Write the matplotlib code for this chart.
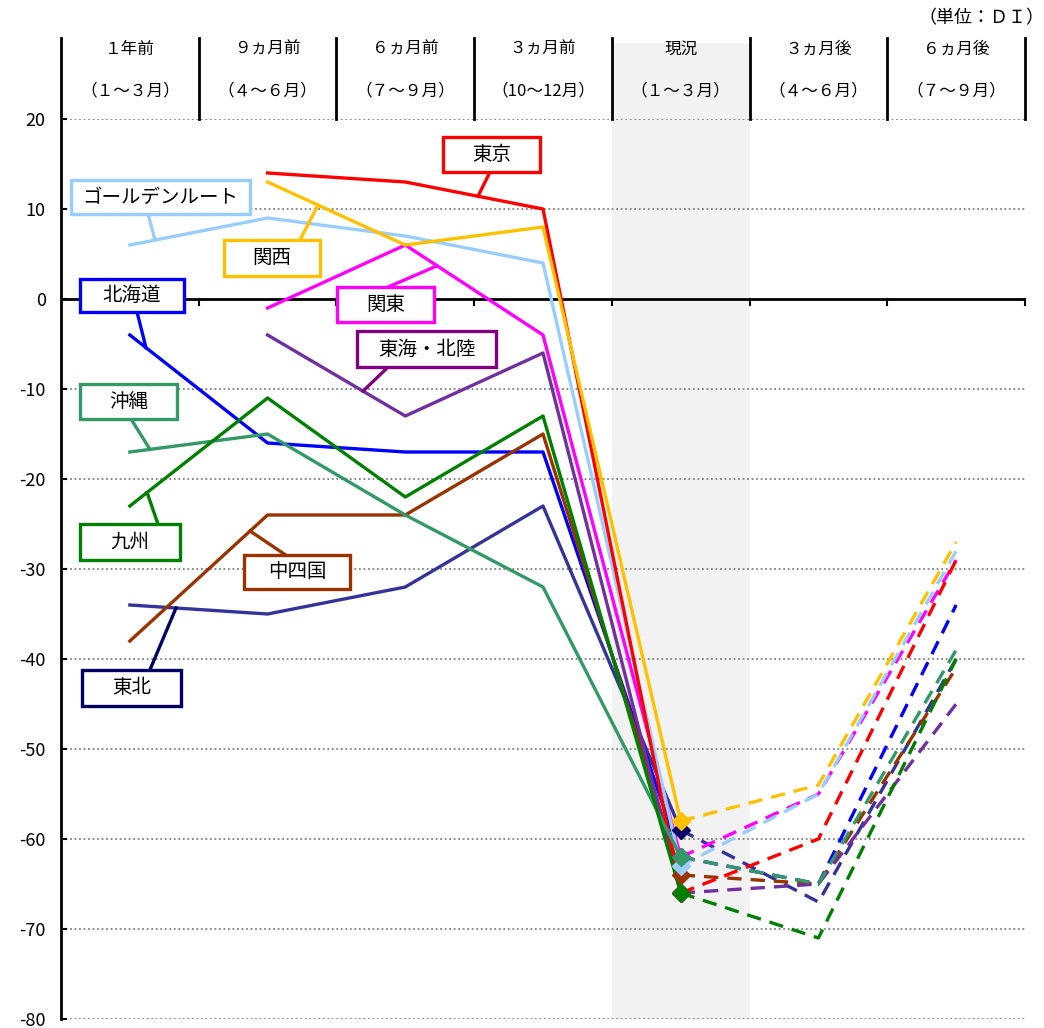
import numpy as np
import matplotlib
matplotlib.use('Agg')
import matplotlib.pyplot as plt
from matplotlib.patches import Rectangle

plt.rcParams['font.family'] = ['Noto Sans CJK JP', 'DejaVu Sans']

# column headers
periods = ['１年前', '９ヵ月前', '６ヵ月前', '３ヵ月前', '現況', '３ヵ月後', '６ヵ月後']
months = ['（１～３月）', '（４～６月）', '（７～９月）', '（10～12月）', '（１～３月）', '（４～６月）', '（７～９月）']

# DI values per region (nan = no data)
nan = np.nan
tokyo = [nan, 14, 13, 10, -66, -60, -29]
kansai = [nan, 13, 6, 8, -58, -54, -27]
golden = [6, 9, 7, 4, -63, -55, -28]
kanto = [nan, -1, 6, -4, -62, -55, -29]
hokkaido = [-4, -16, -17, -17, -62, -65, -34]
tokai = [nan, -4, -13, -6, -66, -65, -45]
okinawa = [-17, -15, -24, -32, -62, -65, -39]
kyushu = [-23, -11, -22, -13, -66, -71, -40]
chushikoku = [-38, -24, -24, -15, -64, -65, -41]
tohoku = [-34, -35, -32, -23, -59, -67, -40]

# name, values, line colour, box colour, box (x0, y0, x1, y1), leader start, leader x on line
series = [
    ('東北', tohoku, '#333399', '#000066', (0.153, -45.2, 0.871, -41.2), (0.646, -41.2), 0.835),
    ('北海道', hokkaido, '#0000FF', '#0000FF', (0.138, -1.44, 0.893, 2.22), (0.552, -1.44), 0.617),
    ('中四国', chushikoku, '#993300', '#993300', (1.329, -32.2, 2.099, -28.4), (1.627, -28.4), 1.373),
    ('東海・北陸', tokai, '#7030A0', '#800080', (2.150, -7.56, 3.159, -3.56), (2.375, -7.56), 2.193),
    ('関東', kanto, '#FF00FF', '#FF00FF', (2.004, -2.56, 2.709, 1.33), (2.375, 1.33), 2.731),
    ('ゴールデンルート', golden, '#99CCFF', '#99CCFF', (0.073, 9.44, 1.372, 13.22), (0.632, 9.44), 0.683),
    ('東京', tokyo, '#FF0000', '#FF0000', (2.774, 14.11, 3.479, 18.0), (3.115, 14.11), 3.028),
    ('関西', kansai, '#FFC000', '#FFC000', (1.184, 2.56, 1.881, 6.56), (1.736, 6.56), 1.866),
    ('沖縄', okinawa, '#339966', '#339966', (0.138, -13.33, 0.842, -9.44), (0.508, -13.33), 0.646),
    ('九州', kyushu, '#008000', '#008000', (0.138, -29.0, 0.864, -25.0), (0.704, -25.0), 0.625),
]

fig = plt.figure(figsize=(10.44, 10.28), dpi=100)
ax = fig.add_axes([61 / 1044, 9 / 1028, 964 / 1044, 900 / 1028])
ax.set_xlim(0, 7)
ax.set_ylim(-80, 20)
for s in ax.spines.values():
    s.set_visible(False)

xs = np.arange(len(periods)) + 0.5
now = 4

# shaded current column
ax.add_patch(Rectangle((now, -80), 1, 108.4, facecolor='#F2F2F2', edgecolor='none',
                       zorder=0, clip_on=False))

# grid
for v in range(-80, 30, 10):
    if v == 0:
        continue
    ax.axhline(v, color='#808080', lw=1.3, ls=(0, (1, 1.5)), zorder=1)
ax.axhline(0, color='black', lw=2, zorder=2)
for i in range(1, 8):
    ax.plot([i, i], [0, -0.7], color='black', lw=1.5, zorder=2, clip_on=False)

# left axis and header lines
ax.plot([0, 0], [-80, 29], color='black', lw=2, clip_on=False, zorder=3)
for i in range(1, 8):
    ax.plot([i, i], [20, 29], color='black', lw=2, clip_on=False, zorder=3)
for i in range(len(periods)):
    ax.text(xs[i], 27.7, periods[i], ha='center', va='center', fontsize=12)
    ax.text(xs[i], 23.1, months[i], ha='center', va='center', fontsize=12)
ax.text(7.14, 31.2, '（単位：ＤＩ）', ha='right', va='center', fontsize=13)

ax.set_xticks([])
ax.set_yticks(range(-80, 30, 10))
ax.set_yticklabels([str(v) for v in range(-80, 30, 10)], fontsize=13)
ax.tick_params(axis='y', direction='in', length=4, width=1.5, pad=11)

# lines
for k, (name, vals, col, bcol, box, lstart, lx) in enumerate(series):
    v = np.array(vals, dtype=float)
    ax.plot(xs[:now + 1], v[:now + 1], color=col, lw=2.4, zorder=10 + k)
    ax.plot(xs[now:], v[now:], color=col, lw=2.4, dashes=(4.3, 2.7), zorder=10 + k)

for k, (name, vals, col, bcol, box, lstart, lx) in enumerate(series):
    mcol = bcol if name == '東北' else col
    ax.plot(xs[now], vals[now], marker='D', ms=9, color=mcol, zorder=30 + k)

# label boxes with leader lines
for name, vals, col, bcol, box, lstart, lx in series:
    v = np.array(vals, dtype=float)
    ok = ~np.isnan(v)
    ly = np.interp(lx, xs[ok], v[ok])
    ax.plot([lstart[0], lx], [lstart[1], ly], color=bcol, lw=2.4, zorder=40)
    x0, y0, x1, y1 = box
    ax.add_patch(Rectangle((x0, y0), x1 - x0, y1 - y0, facecolor='white', edgecolor=bcol,
                           lw=2.4, zorder=41, clip_on=False))
    ax.text((x0 + x1) / 2, (y0 + y1) / 2, name, ha='center', va='center', fontsize=14, zorder=42)

fig.savefig('out.png', dpi=100)
